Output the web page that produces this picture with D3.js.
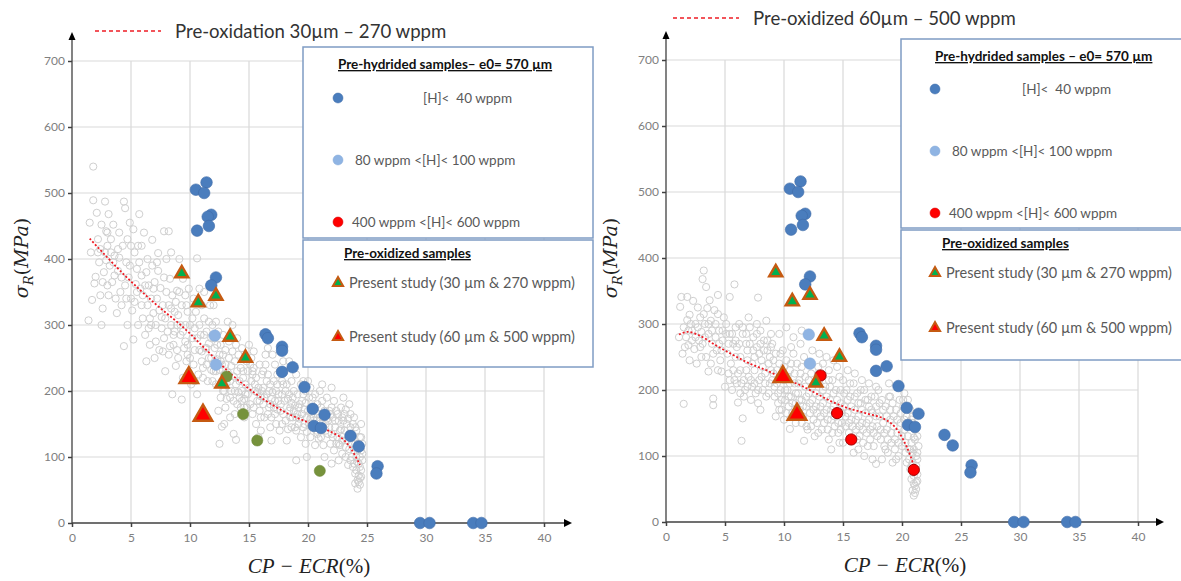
<!DOCTYPE html>
<html><head><meta charset="utf-8">
<script src="https://cdn.jsdelivr.net/npm/d3@7"></script>
<style>body{margin:0;background:#fff}svg{display:block}text{white-space:pre}</style>
</head><body><svg id="c" width="1181" height="581"></svg>
<script>
// ---------- DATA ----------
const xTicks = [0,5,10,15,20,25,30,35,40];
const yTicks = [0,100,200,300,400,500,600,700];

// Pre-hydrided samples, [H] < 40 wppm  [CP-ECR %, sigma_R MPa]
const hydLow = [[10.5,505],[11.4,516],[11.2,500],[11.8,467],[11.5,464],[11.6,450],[10.6,443],
  [12.2,372],[11.8,360],[16.4,286],[16.6,280],[17.8,267],[17.8,261],[17.8,229],[18.7,236],
  [19.7,206],[20.4,173],[21.4,164],[20.5,147],[21.1,144],[23.6,132],[24.3,116],[25.9,86],[25.8,75],
  [29.5,0],[30.3,0],[34.0,0],[34.7,0]];
// 80 wppm < [H] < 100 wppm
const hydMid = [[12.1,284],[12.2,240]];
// 400 wppm < [H] < 600 wppm
const hydHigh = [[13.1,222],[14.5,165],[15.7,125],[21.0,79]];
// Pre-oxidized, present study 30 µm & 270 wppm
const ox30 = [[9.3,378],[10.7,334],[12.2,344],[13.4,282],[14.7,250],[12.7,211]];
// Pre-oxidized, present study 60 µm & 500 wppm
const ox60 = [[9.9,220],[11.1,163]];

// fitted trend curves
const fitLeft = [[1.5,431],[4.2,380],[7.0,333],[9.4,297],[11.4,262],[13.4,227],[15.1,202],[16.8,181],
  [18.5,164],[20.2,151],[21.6,141],[22.9,128],[23.7,111],[24.4,88]];
const fitRight = [[1.1,284],[1.8,288],[2.8,283],[4.2,268],[5.7,253],[7.1,240],[8.5,230],[9.9,218],
  [11.3,208],[12.7,195],[14.1,182],[15.5,172],[16.9,165],[18.4,157],[19.4,144],[20.4,114],[21.1,80]];

// reference database (grey open circles), left panel
const cloudLeft = [
 [1.8,540],[1.8,489],[2.8,487],[1.4,307],[2.0,373],[1.9,363],[2.2,430],[2.5,452],[1.6,410],[2.9,398],[2.4,345],[3.0,420],[2.7,380],[1.5,455],[2.1,470],[2.6,325],[2.9,442],[2.3,395],[1.7,338],[3.0,360],[2.5,300],[2.8,410],
 [3.1,468],[4.4,487],[4.5,477],[5.7,468],[5.2,445],[3.3,430],[3.6,405],[3.9,382],[4.1,350],[4.3,420],[4.6,395],[4.8,372],[5.0,340],[5.3,410],[5.5,385],[5.8,355],[3.5,452],[4.0,440],[3.8,318],[4.7,300],[5.1,322],[5.6,300],[5.9,420],[3.4,365],[4.2,330],[5.4,362],[4.9,455],[3.2,390],[5.9,330],[4.4,268],[5.2,278],[3.7,340],[5.7,395],
 [6.1,440],[6.8,429],[7.3,409],[7.8,442],[8.2,442],[6.3,380],[6.5,360],[6.7,340],[6.9,318],[7.1,300],[7.3,382],[7.5,356],[7.7,330],[7.9,310],[8.1,290],[8.3,370],[8.5,345],[8.7,320],[8.9,300],[6.2,285],[6.6,270],[7.0,250],[7.4,262],[7.8,280],[8.2,255],[8.6,270],[8.8,238],[6.4,400],[7.2,395],[8.0,400],[8.4,410],[6.0,310],[6.9,355],[7.6,312],[8.4,325],[8.9,352],[6.3,245],[7.9,230],[8.7,290],[6.7,300],[8.5,195],
 [9.1,400],[9.4,370],[9.6,345],[9.8,320],[10.0,300],[10.2,280],[10.4,262],[10.6,401],[10.8,355],[11.0,330],[11.2,310],[11.4,290],[11.6,272],[11.8,250],[9.2,285],[9.5,265],[9.7,245],[9.9,228],[10.3,240],[10.7,225],[11.1,235],[11.5,215],[11.9,300],[9.3,330],[9.9,355],[10.5,320],[10.9,285],[11.3,265],[11.7,330],[9.0,250],[10.1,210],[10.6,195],[11.0,260],[11.4,240],[9.6,300],[10.3,340],[11.8,280],[9.4,220],[10.8,300],[11.2,350],[11.6,305],[9.8,270],[9.3,187],
 [12.0,330],[12.2,305],[12.4,290],[12.6,270],[12.8,255],[13.0,240],[13.2,228],[13.4,215],[13.6,260],[13.8,245],[14.0,230],[14.2,215],[14.4,200],[14.6,188],[14.8,245],[12.1,265],[12.3,248],[12.5,232],[12.7,215],[12.9,200],[13.1,188],[13.3,275],[13.5,200],[13.7,185],[13.9,270],[14.1,255],[14.3,175],[14.5,230],[14.7,210],[14.9,195],[12.2,210],[12.6,190],[13.0,175],[13.4,160],[12.8,285],[13.6,300],[14.0,280],[14.4,265],[12.4,170],[13.8,165],[14.6,160],[12.0,230],[12.9,150],[13.2,305],[14.2,190],[14.8,175],[12.5,120],[13.7,135],[12.7,146],[13.9,126],
 [15.0,270],[15.2,250],[15.4,235],[15.6,220],[15.8,205],[16.0,192],[16.2,180],[16.4,240],[16.6,225],[16.8,210],[17.0,198],[17.2,185],[17.4,172],[17.6,230],[17.8,215],[15.1,180],[15.3,165],[15.5,200],[15.7,185],[15.9,170],[16.1,225],[16.3,160],[16.5,195],[16.7,175],[16.9,160],[17.1,215],[17.3,150],[17.5,195],[17.7,180],[17.9,165],[15.2,215],[15.6,150],[16.0,140],[16.4,255],[16.8,145],[17.2,240],[17.6,140],[15.4,260],[15.9,240],[16.6,265],[17.0,255],[17.8,195],[15.8,130],[16.9,125],[15.3,230],[17.4,210],[16.2,205],[17.9,245],
 [18.0,230],[18.2,210],[18.4,195],[18.6,182],[18.8,170],[19.0,160],[19.2,150],[19.4,210],[19.6,195],[19.8,182],[20.0,170],[20.2,158],[20.4,148],[20.6,195],[20.8,180],[18.1,155],[18.3,142],[18.5,175],[18.7,160],[18.9,145],[19.1,195],[19.3,180],[19.5,165],[19.7,150],[19.9,138],[20.1,190],[20.3,175],[20.5,160],[20.7,140],[20.9,128],[18.2,125],[18.6,215],[19.0,225],[19.4,130],[19.8,120],[20.2,205],[20.6,118],[18.4,245],[19.6,215],[20.8,165],[18.0,185],[19.2,175],[20.4,190],[18.8,200],[19.9,100],[20.0,215],[19.0,95],
 [21.0,200],[21.2,185],[21.4,170],[21.6,158],[21.8,145],[22.0,135],[22.2,185],[22.4,170],[22.6,155],[22.8,142],[21.1,130],[21.3,118],[21.5,150],[21.7,135],[21.9,120],[22.1,160],[22.3,145],[22.5,130],[22.7,118],[22.9,105],[21.2,210],[21.6,190],[22.0,205],[22.4,120],[22.8,175],[21.4,100],[22.6,95],[21.8,170],[22.2,110],[22.9,160],[21.0,160],[22.0,90],
 [23.0,190],[23.2,172],[23.4,158],[23.6,145],[23.8,132],[24.0,120],[24.2,110],[24.4,100],[23.1,140],[23.3,125],[23.5,112],[23.7,100],[23.9,90],[24.1,80],[24.3,72],[24.5,150],[23.6,165],[24.0,145],[24.4,130],[23.2,100],[23.8,85],[24.2,65],[24.4,58],[24.0,60],[24.3,90],[24.5,110],[23.5,180],[23.9,160],[24.1,140],[24.5,80],[24.2,52],[24.4,68],[24.6,120],[23.0,155],[23.4,88],[24.6,95],
 [2.2,410],[2.6,365],[3.1,345],[3.5,395],[3.9,415],[4.2,372],[4.6,340],[4.9,390],[5.3,335],[5.6,420],[5.9,375],[3.0,440],[4.0,402],[5.0,420],[2.4,415],[3.6,375],[4.5,360],[5.5,350],[4.7,430],[3.3,410],
 [6.2,360],[6.4,330],[6.6,310],[6.8,390],[7.0,365],[7.2,340],[7.4,322],[7.6,295],[7.8,372],[8.0,350],[8.2,330],[8.4,300],[8.6,285],[8.8,335],[6.5,295],[7.1,275],[7.7,260],[8.3,268],[8.9,262],[6.0,345],
 [9.0,315],[9.2,300],[9.4,290],[9.6,275],[9.8,255],[10.0,250],[10.2,310],[10.4,295],[10.6,280],[10.8,262],[11.0,245],[11.2,285],[11.4,265],[11.6,250],[11.8,232],[9.1,350],[9.7,330],[10.4,215],[11.1,220],[11.9,215],
 [12.1,280],[12.3,270],[12.5,255],[12.7,240],[12.9,225],[13.1,212],[13.3,250],[13.5,238],[13.7,222],[13.9,210],[14.1,198],[14.3,235],[14.5,220],[14.7,195],[14.9,230],[12.2,230],[12.8,200],[13.4,190],[14.0,180],[14.6,175],[13.0,262],[13.8,200],[12.6,245],[14.4,185],
 [15.1,240],[15.3,225],[15.5,210],[15.7,198],[15.9,185],[16.1,200],[16.3,190],[16.5,215],[16.7,200],[16.9,188],[17.1,175],[17.3,200],[17.5,185],[17.7,170],[17.9,210],[15.4,175],[16.0,160],[16.6,165],[17.2,165],[17.8,150],[15.0,205],[16.2,230],[17.4,225],[16.8,180],
 [18.1,200],[18.3,188],[18.5,160],[18.7,190],[18.9,178],[19.1,165],[19.3,158],[19.5,185],[19.7,172],[19.9,160],[20.1,150],[20.3,165],[20.5,175],[20.7,155],[20.9,145],[18.4,170],[19.0,140],[19.6,145],[20.2,130],[20.8,135],[18.6,145],[19.8,200],
 [21.1,175],[21.3,160],[21.5,140],[21.7,155],[21.9,165],[22.1,130],[22.3,155],[22.5,165],[22.7,140],[22.9,125],[23.1,165],[23.3,150],[23.5,135],[23.7,120],[23.9,110],[24.1,100],[24.3,120],[24.5,130],[21.2,145],[22.0,175],[22.6,120],[23.2,115],[23.8,150],[24.4,85],[24.6,105],[24.2,92],[23.6,95],[24.0,75],[24.3,62],[24.5,70]
];

// reference database (grey open circles), right panel
const cloudRight = [
 [1.1,280],[1.7,280],[1.3,341],[1.8,341],[1.2,326],[2.0,314],[1.8,306],[1.5,179],[2.2,290],[2.5,300],[2.8,275],[2.4,262],[1.4,255],[2.0,245],[2.9,310],[2.6,240],[1.9,268],[2.7,325],[3.0,288],[2.3,335],
 [3.2,381],[3.1,368],[3.4,356],[5.8,360],[3.7,336],[4.4,344],[3.5,324],[4.1,321],[5.4,341],[4.0,187],[4.0,177],[3.3,300],[3.6,285],[3.9,270],[4.2,300],[4.5,290],[4.8,275],[5.1,300],[5.4,285],[5.7,270],[3.4,250],[3.8,240],[4.3,260],[4.6,245],[4.9,310],[5.2,255],[5.5,240],[5.9,295],[3.1,270],[4.7,228],[5.3,225],[5.8,215],[3.6,228],[5.0,205],[5.6,200],[4.4,315],
 [6.1,181],[6.5,157],[6.4,123],[7.8,340],[6.2,300],[6.5,285],[6.8,270],[7.1,295],[7.4,280],[7.7,265],[8.0,290],[8.3,275],[8.6,260],[8.9,285],[6.3,250],[6.9,245],[7.5,250],[8.1,245],[8.7,240],[6.1,225],[6.4,210],[6.7,200],[7.0,220],[7.3,205],[7.6,195],[7.9,215],[8.2,200],[8.5,190],[8.8,210],[6.6,190],[7.2,185],[7.8,180],[8.4,225],[6.0,265],[7.0,310],[8.5,305],[6.8,230],[7.5,230],[8.9,230],[6.3,195],[7.7,300],[8.0,170],
 [9.0,270],[9.3,255],[9.6,240],[9.9,260],[10.2,245],[10.5,230],[10.8,255],[11.1,240],[11.4,225],[11.7,250],[9.1,225],[9.4,210],[9.7,200],[10.0,215],[10.3,200],[10.6,190],[10.9,210],[11.2,195],[11.5,185],[11.8,205],[9.2,190],[9.5,180],[9.8,170],[10.1,185],[10.4,175],[10.7,165],[11.0,180],[11.3,170],[11.6,160],[11.9,175],[10.5,141],[11.7,123],[9.6,285],[10.2,295],[10.8,280],[11.4,270],[9.3,160],[10.0,155],[11.0,150],[11.9,145],[10.6,265],[11.5,290],[9.8,225],[11.3,215],
 [12.0,240],[12.3,225],[12.6,210],[12.9,235],[13.2,220],[13.5,205],[13.8,230],[14.1,215],[14.4,200],[14.7,220],[12.1,195],[12.4,185],[12.7,175],[13.0,190],[13.3,180],[13.6,170],[13.9,185],[14.2,175],[14.5,165],[14.8,180],[12.2,165],[12.5,155],[12.8,150],[13.1,160],[13.4,150],[13.7,140],[14.0,155],[14.3,145],[14.6,135],[14.9,150],[12.4,260],[13.0,255],[13.6,250],[14.2,245],[12.9,135],[13.8,125],[14.7,120],[12.0,140],[14.5,235],[13.3,240],[12.6,130],[14.0,110],
 [15.0,215],[15.3,200],[15.6,190],[15.9,210],[16.2,195],[16.5,180],[16.8,200],[17.1,185],[17.4,170],[17.7,190],[15.1,175],[15.4,165],[15.7,155],[16.0,170],[16.3,160],[16.6,150],[16.9,165],[17.2,155],[17.5,145],[17.8,160],[15.2,145],[15.5,135],[15.8,125],[16.1,140],[16.4,130],[16.7,120],[17.0,135],[17.3,125],[17.6,115],[17.9,130],[15.4,230],[16.0,225],[16.6,215],[17.2,210],[17.8,205],[15.9,105],[16.8,100],[17.5,95],[15.0,120],[16.3,110],
 [18.0,200],[18.3,185],[18.6,175],[18.9,190],[19.2,180],[19.5,170],[19.8,185],[20.1,175],[20.4,160],[20.7,170],[18.1,160],[18.4,150],[18.7,140],[19.0,155],[19.3,145],[19.6,135],[19.9,150],[20.2,140],[20.5,130],[20.8,145],[18.2,125],[18.5,115],[18.8,105],[19.1,120],[19.4,110],[19.7,100],[20.0,115],[20.3,105],[20.6,95],[18.9,210],[19.6,205],[20.2,195],[18.3,95],[19.2,90],[17.8,88],[20.5,185],
 [20.9,150],[21.1,140],[21.3,130],[20.8,120],[21.0,110],[21.2,100],[20.9,90],[21.1,80],[21.3,72],[20.8,65],[21.0,58],[21.2,50],[21.1,44],[20.9,48],[21.3,62],[21.0,40],[21.2,85],[20.7,110],[21.4,115],[21.0,128],
 [1.5,295],[2.1,300],[2.5,280],[2.9,265],[3.3,280],[3.6,300],[3.9,290],[4.2,280],[4.5,270],[4.8,290],[1.9,290],[2.7,295],[3.2,315],[4.0,255],[4.7,260],[3.0,250],[2.2,275],[1.6,265],[4.4,230],[3.8,305],
 [5.1,285],[5.3,270],[5.6,285],[5.9,275],[6.2,270],[6.5,295],[6.8,285],[7.1,270],[7.4,260],[7.7,285],[8.0,270],[8.3,260],[8.6,275],[8.9,265],[5.4,215],[5.7,230],[6.0,210],[6.3,230],[6.6,215],[6.9,205],[7.2,215],[7.5,210],[7.8,200],[8.1,220],[8.4,210],[8.7,195],[5.9,250],[6.9,260],[7.9,255],[8.8,250],[7.3,240],[8.2,235],
 [9.1,245],[9.4,230],[9.7,255],[10.0,235],[10.3,220],[10.6,240],[10.9,225],[11.2,210],[11.5,235],[11.8,220],[9.2,205],[9.5,195],[9.8,185],[10.1,200],[10.4,190],[10.7,180],[11.0,195],[11.3,185],[11.6,175],[11.9,190],[9.6,170],[10.2,165],[10.9,160],[11.5,150],[9.0,215],[10.5,210],
 [12.1,215],[12.4,205],[12.7,195],[13.0,210],[13.3,200],[13.6,190],[13.9,205],[14.2,195],[14.5,185],[14.8,200],[12.2,180],[12.5,170],[12.8,165],[13.1,175],[13.4,165],[13.7,155],[14.0,170],[14.3,160],[14.6,150],[14.9,165],[12.3,145],[13.2,140],[14.1,135],[14.8,140],[12.9,225],[13.8,215],
 [15.1,195],[15.4,185],[15.7,175],[16.0,190],[16.3,180],[16.6,170],[16.9,185],[17.2,175],[17.5,165],[17.8,175],[15.2,160],[15.5,150],[15.8,145],[16.1,155],[16.4,145],[16.7,140],[17.0,150],[17.3,140],[17.6,135],[17.9,145],[15.6,210],[16.5,200],[17.4,190],[16.2,125],[17.1,115],
 [18.1,180],[18.4,170],[18.7,160],[19.0,170],[19.3,160],[19.6,155],[19.9,165],[20.2,155],[20.5,145],[20.8,155],[18.2,140],[18.5,135],[18.8,125],[19.1,135],[19.4,125],[19.7,120],[20.0,130],[20.3,120],[20.6,110],[18.6,110],[19.5,95],[20.4,90],[20.7,80],[19.0,190],[20.1,185],
 [20.9,160],[21.1,125],[21.3,95],[20.9,105],[21.0,70],[21.2,60],[20.8,85],[21.1,55],[20.9,75],[21.3,105]
];

const topLegendLeft = "Pre-oxidation 30µm – 270 wppm";
const topLegendRight = "Pre-oxidized 60µm – 500 wppm";
const hydTitleLeft = "Pre-hydrided samples– e0= 570 µm";
const hydTitleRight = "Pre-hydrided samples – e0= 570 µm";
const hydLabels = ["[H]<  40 wppm", "80 wppm <[H]< 100 wppm", "400 wppm <[H]< 600 wppm"];
const oxTitle = "Pre-oxidized samples";
const oxLabels = ["Present study (30 µm & 270 wppm)", "Present study (60 µm & 500 wppm)"];

// ---------- STYLE ----------
const C = {
  grid:"#d9d9d9", axis:"#404040", tick:"#808080", cloud:"#cfcfcf",
  blue:"#4a7dbd", light:"#8fb4e3", olive:"#76923c", red:"#ff0000",
  triGreen:"#00b050", triStroke:"#c55a11", fit:"#ee1c25", box:"#7f9cc4"
};
const FONT = "Lato, 'Open Sans', sans-serif";
const svg = d3.select("#c");

function panel(o){
  const g = svg.append("g");
  const x = d3.scaleLinear().domain([0,40]).range([o.x0,o.x1]);
  const y = d3.scaleLinear().domain([0,700]).range([o.y0,o.y1]);

  // grid
  g.append("g").selectAll("line").data(xTicks.slice(1)).join("line")
    .attr("x1",d=>x(d)).attr("x2",d=>x(d)).attr("y1",y(0)).attr("y2",y(700))
    .attr("stroke",C.grid).attr("stroke-width",1.2);
  g.append("g").selectAll("line").data(yTicks.slice(1)).join("line")
    .attr("x1",x(0)).attr("x2",x(40)).attr("y1",d=>y(d)).attr("y2",d=>y(d))
    .attr("stroke",C.grid).attr("stroke-width",1.2);

  // grey cloud
  g.append("g").selectAll("circle").data(o.cloud).join("circle")
    .attr("cx",d=>x(d[0])).attr("cy",d=>y(d[1])).attr("r",3.6)
    .attr("fill","none").attr("stroke",C.cloud).attr("stroke-width",1);

  // fit curve
  g.append("path").datum(o.fit)
    .attr("d", d3.line().x(d=>x(d[0])).y(d=>y(d[1])).curve(d3.curveCatmullRom.alpha(0.5)))
    .attr("fill","none").attr("stroke",C.fit).attr("stroke-width",1.8).attr("stroke-dasharray","2,2");

  // axes
  const ax = g.append("g").attr("transform",`translate(0,${y(0)})`)
    .call(d3.axisBottom(x).tickValues(xTicks).tickSize(4).tickPadding(6));
  const ay = g.append("g").attr("transform",`translate(${x(0)},0)`)
    .call(d3.axisLeft(y).tickValues(yTicks).tickSize(4).tickPadding(3));
  [ax,ay].forEach(a=>{
    a.select(".domain").remove();
    a.selectAll(".tick line").attr("stroke",C.axis).attr("stroke-width",1.5);
    a.selectAll(".tick text").attr("fill",C.tick).style("font-family",FONT).style("font-size","12px");
  });
  g.append("line").attr("x1",x(0)).attr("x2",o.xArrow).attr("y1",y(0)).attr("y2",y(0))
    .attr("stroke",C.axis).attr("stroke-width",1.3);
  g.append("line").attr("x1",x(0)).attr("x2",x(0)).attr("y1",y(0)).attr("y2",o.yArrow)
    .attr("stroke",C.axis).attr("stroke-width",1.3);
  g.append("path").attr("d",`M${o.xArrow+6},${y(0)} L${o.xArrow-2},${y(0)-4} L${o.xArrow-2},${y(0)+4}Z`).attr("fill","#000");
  g.append("path").attr("d",`M${x(0)},${o.yArrow-6} L${x(0)-3.5},${o.yArrow+2} L${x(0)+3.5},${o.yArrow+2}Z`).attr("fill","#000");

  // markers
  const dots = (data, fill, stroke, sw, r) => g.append("g").selectAll("circle").data(data).join("circle")
    .attr("cx",d=>x(d[0])).attr("cy",d=>y(d[1])).attr("r",r)
    .attr("fill",fill).attr("stroke",stroke).attr("stroke-width",sw);
  dots(hydLow, C.blue, "#3f6ca8", 0.6, 5.8);
  dots(hydMid, C.light, "#86aad8", 0.5, 5.8);
  dots(hydHigh, o.highColor, o.highStroke, o.highSW, 5.6);
  const tris = (data, fill, size) => g.append("g").selectAll("path").data(data).join("path")
    .attr("transform",d=>`translate(${x(d[0])},${y(d[1])})`)
    .attr("d", d3.symbol(d3.symbolTriangle).size(size))
    .attr("fill",fill).attr("stroke",C.triStroke).attr("stroke-width",2.4).attr("stroke-linejoin","miter");
  tris(ox30, C.triGreen, 75);
  tris(ox60, C.red, 150);

  // axis titles
  const yl = g.append("text").attr("transform",`translate(${o.yLabX},${o.yLabY}) rotate(-90)`)
    .attr("text-anchor","middle").style("font-family","'DejaVu Serif', 'Liberation Serif', serif")
    .style("font-size","19px").attr("fill","#222");
  yl.append("tspan").text("σ").style("font-style","italic");
  yl.append("tspan").text("R").attr("dy",5).style("font-size","13px").style("font-style","italic");
  yl.append("tspan").text("(").attr("dy",-5);
  yl.append("tspan").text("MPa").style("font-style","italic");
  yl.append("tspan").text(")");
  const xl = g.append("text").attr("x",o.xLabX).attr("y",o.xLabY).attr("text-anchor","middle")
    .style("font-family","'Liberation Serif', 'DejaVu Serif', serif").style("font-size","21px").attr("fill","#222");
  xl.append("tspan").text("CP − ECR").style("font-style","italic");
  xl.append("tspan").text("(%)");

  // top legend
  g.append("line").attr("x1",o.tlX).attr("x2",o.tlX+66).attr("y1",o.tlY).attr("y2",o.tlY)
    .attr("stroke",C.fit).attr("stroke-width",1.6).attr("stroke-dasharray","4,3");
  g.append("text").attr("x",o.tlX+80).attr("y",o.tlY).attr("dy","0.35em").text(o.tlText)
    .style("font-family",FONT).style("font-size","18.6px").attr("fill","#333");

  // legend box
  const L = o.leg;
  const lg = g.append("g");
  lg.append("rect").attr("x",L.x).attr("y",L.y).attr("width",L.w).attr("height",L.h1)
    .attr("fill","#fff").attr("stroke",C.box).attr("stroke-width",1.5);
  lg.append("rect").attr("x",L.x).attr("y",L.y+L.h1+2).attr("width",L.w).attr("height",L.h2)
    .attr("fill","#fff").attr("stroke",C.box).attr("stroke-width",1.5);
  lg.append("text").attr("x",L.hx).attr("y",L.y+22).text(o.hydTitle)
    .style("font-family",FONT).style("font-size","13.5px").style("font-weight","bold")
    .style("text-decoration","underline").attr("fill","#111");
  const hydCols = [[C.blue,"#3f6ca8"],[C.light,"#86aad8"],[C.red,"#d00000"]];
  hydLabels.forEach((t,i)=>{
    const cy = L.y + L.rows[i];
    lg.append("circle").attr("cx",L.mx).attr("cy",cy).attr("r",5).attr("fill",hydCols[i][0]).attr("stroke",hydCols[i][1]).attr("stroke-width",0.5);
    lg.append("text").attr("x",L.tx[i]).attr("y",cy).attr("dy","0.35em").text(t)
      .style("font-family",FONT).style("font-size","13.5px").attr("fill","#595959");
  });
  lg.append("text").attr("x",L.ox).attr("y",L.y+L.h1+20).text(oxTitle)
    .style("font-family",FONT).style("font-size","13.5px").style("font-weight","bold")
    .style("text-decoration","underline").attr("fill","#111");
  oxLabels.forEach((t,i)=>{
    const cy = L.y + L.rows[3+i];
    lg.append("path").attr("transform",`translate(${L.mx},${cy})`).attr("d",d3.symbol(d3.symbolTriangle).size(45))
      .attr("fill", i===0?C.triGreen:C.red).attr("stroke",C.triStroke).attr("stroke-width",2);
    lg.append("text").attr("x",L.mx+11).attr("y",cy).attr("dy","0.35em").text(t)
      .style("font-family",FONT).style("font-size","14.5px").attr("fill","#595959");
  });
}

panel({x0:72,x1:544,y0:523,y1:61,xArrow:566,yArrow:38,cloud:cloudLeft,fit:fitLeft,
  highColor:C.olive,highStroke:"#6a8434",highSW:0.5,
  yLabX:28,yLabY:258,xLabX:309,xLabY:573,tlX:95,tlY:31,tlText:topLegendLeft,hydTitle:hydTitleLeft,
  leg:{x:303,y:47,w:290,h1:191,h2:127,hx:338,mx:338,ox:344,tx:[423,355,352],rows:[51,113,175,236,290]}});
panel({x0:666,x1:1138,y0:522,y1:60,xArrow:1158,yArrow:37,cloud:cloudRight,fit:fitRight,
  highColor:C.red,highStroke:"#a00000",highSW:1,
  yLabX:617,yLabY:258,xLabX:905,xLabY:572,tlX:673,tlY:18,tlText:topLegendRight,hydTitle:hydTitleRight,
  leg:{x:901,y:39,w:300,h1:189,h2:130,hx:935,mx:935,ox:942,tx:[1022,952,949],rows:[50,112,174,234,289]}});
</script></body></html>
